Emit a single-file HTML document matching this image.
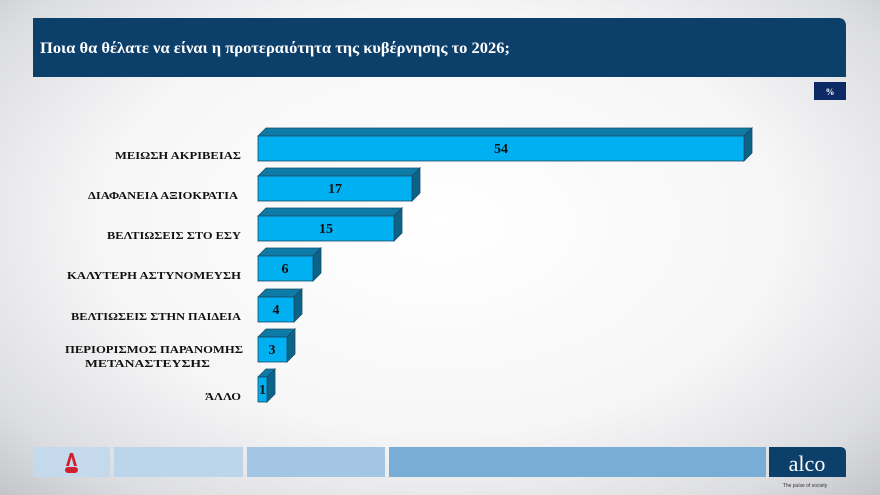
<!DOCTYPE html>
<html><head><meta charset="utf-8"><style>
html,body{margin:0;padding:0;}
body{width:880px;height:495px;overflow:hidden;background:radial-gradient(ellipse at 50% 45%,#ffffff 0%,#f6f6f7 55%,#dcdde0 85%,#c4c5c8 100%);}
</style></head><body>
<svg width="880" height="495" viewBox="0 0 880 495" xmlns="http://www.w3.org/2000/svg" style="position:absolute;left:0;top:0">
<path d="M33 18 H838 Q846 18 846 26 V77 H33 Z" fill="#0d3f6b"/>
<text x="40" y="53" font-family="Liberation Serif, serif" font-weight="bold" font-size="16" fill="#fff" textLength="470" lengthAdjust="spacingAndGlyphs">Ποια θα θέλατε να είναι η προτεραιότητα της κυβέρνησης το 2026;</text>
<rect x="814" y="82" width="32" height="18" fill="#0b2a66"/>
<text x="830" y="95" text-anchor="middle" font-family="Liberation Serif, serif" font-weight="bold" font-size="9" fill="#fff">%</text>
<g stroke="#1a4a66" stroke-width="0.8" font-family="Liberation Serif, serif" font-weight="bold">
<g transform="translate(0,136)"><polygon points="258,0 266,-8 752,-8 744,0" fill="#0e7aa6"/><polygon points="744,0 752,-8 752,17 744,25" fill="#0b6487"/><rect x="258" y="0" width="486" height="25" fill="#00b0f0"/><text x="501" y="17" text-anchor="middle" font-size="14" fill="#111" stroke="none">54</text></g>
<g transform="translate(0,176)"><polygon points="258,0 266,-8 420,-8 412,0" fill="#0e7aa6"/><polygon points="412,0 420,-8 420,17 412,25" fill="#0b6487"/><rect x="258" y="0" width="154" height="25" fill="#00b0f0"/><text x="335" y="17" text-anchor="middle" font-size="14" fill="#111" stroke="none">17</text></g>
<g transform="translate(0,216)"><polygon points="258,0 266,-8 402,-8 394,0" fill="#0e7aa6"/><polygon points="394,0 402,-8 402,17 394,25" fill="#0b6487"/><rect x="258" y="0" width="136" height="25" fill="#00b0f0"/><text x="326" y="17" text-anchor="middle" font-size="14" fill="#111" stroke="none">15</text></g>
<g transform="translate(0,256)"><polygon points="258,0 266,-8 321,-8 313,0" fill="#0e7aa6"/><polygon points="313,0 321,-8 321,17 313,25" fill="#0b6487"/><rect x="258" y="0" width="55" height="25" fill="#00b0f0"/><text x="285" y="17" text-anchor="middle" font-size="14" fill="#111" stroke="none">6</text></g>
<g transform="translate(0,297)"><polygon points="258,0 266,-8 302,-8 294,0" fill="#0e7aa6"/><polygon points="294,0 302,-8 302,17 294,25" fill="#0b6487"/><rect x="258" y="0" width="36" height="25" fill="#00b0f0"/><text x="276" y="17" text-anchor="middle" font-size="14" fill="#111" stroke="none">4</text></g>
<g transform="translate(0,337)"><polygon points="258,0 266,-8 295,-8 287,0" fill="#0e7aa6"/><polygon points="287,0 295,-8 295,17 287,25" fill="#0b6487"/><rect x="258" y="0" width="29" height="25" fill="#00b0f0"/><text x="272" y="17" text-anchor="middle" font-size="14" fill="#111" stroke="none">3</text></g>
<g transform="translate(0,377)"><polygon points="258,0 266,-8 275,-8 267,0" fill="#0e7aa6"/><polygon points="267,0 275,-8 275,17 267,25" fill="#0b6487"/><rect x="258" y="0" width="9" height="25" fill="#00b0f0"/><text x="262.5" y="17" text-anchor="middle" font-size="14" fill="#111" stroke="none">1</text></g>
</g>
<g font-family="Liberation Serif, serif" font-weight="bold" font-size="10" fill="#111" text-anchor="end">
<text x="241" y="159" textLength="126" lengthAdjust="spacingAndGlyphs">ΜΕΙΩΣΗ ΑΚΡΙΒΕΙΑΣ</text>
<text x="238" y="199" textLength="150" lengthAdjust="spacingAndGlyphs">ΔΙΑΦΑΝΕΙΑ  ΑΞΙΟΚΡΑΤΙΑ</text>
<text x="241" y="239" textLength="134" lengthAdjust="spacingAndGlyphs">ΒΕΛΤΙΩΣΕΙΣ ΣΤΟ ΕΣΥ</text>
<text x="241" y="279" textLength="174" lengthAdjust="spacingAndGlyphs">ΚΑΛΥΤΕΡΗ ΑΣΤΥΝΟΜΕΥΣΗ</text>
<text x="241" y="320" textLength="170" lengthAdjust="spacingAndGlyphs">ΒΕΛΤΙΩΣΕΙΣ ΣΤΗΝ ΠΑΙΔΕΙΑ</text>
<text x="243" y="353" textLength="178" lengthAdjust="spacingAndGlyphs">ΠΕΡΙΟΡΙΣΜΟΣ ΠΑΡΑΝΟΜΗΣ</text>
<text x="210" y="367" textLength="125" lengthAdjust="spacingAndGlyphs">ΜΕΤΑΝΑΣΤΕΥΣΗΣ</text>
<text x="241" y="400" textLength="36" lengthAdjust="spacingAndGlyphs">ΆΛΛΟ</text>
</g>
<rect x="33" y="447" width="77" height="30" fill="#c5d9ec"/>
<path d="M66 466 L70 453 L73 453 L77 466 L74 466 L71.5 457 L69 466 Z" fill="#d0202e"/>
<rect x="65" y="467" width="13" height="6" rx="3" fill="#d0202e"/>
<rect x="114" y="447" width="129" height="30" fill="#bdd5ea"/>
<rect x="247" y="447" width="138" height="30" fill="#a3c6e4"/>
<rect x="389" y="447" width="377" height="30" fill="#78aed6"/>
<path d="M769 447 H840 Q846 447 846 453 V477 H769 Z" fill="#0d3f6b"/>
<text x="807" y="471" text-anchor="middle" font-family="Liberation Serif, serif" font-size="22" fill="#fff">alco</text>
<text x="805" y="487" text-anchor="middle" font-family="Liberation Sans, sans-serif" font-size="5" fill="#333">The pulse of society</text>
</svg>
</body></html>
